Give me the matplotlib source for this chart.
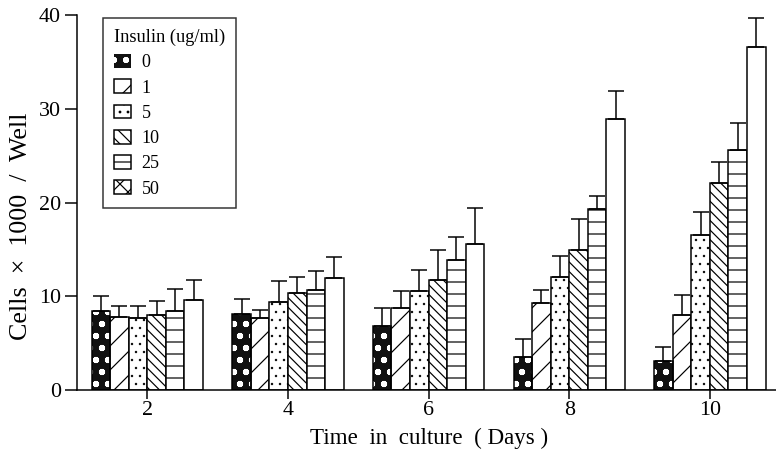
import matplotlib
matplotlib.use('Agg')
import matplotlib.pyplot as plt
from matplotlib.patches import Patch
import numpy as np

# ---------------- data ----------------
days = [2, 4, 6, 8, 10]
concentrations = ['0', '1', '5', '10', '25', '50']
mean_0 = [8.4, 8.1, 6.8, 3.5, 3.1]
mean_1 = [7.8, 7.7, 8.8, 9.3, 8.0]
mean_5 = [7.7, 9.4, 10.6, 12.1, 16.5]
mean_10 = [8.0, 10.3, 11.7, 14.9, 22.1]
mean_25 = [8.4, 10.7, 13.9, 19.3, 25.6]
mean_50 = [9.6, 11.9, 15.6, 28.9, 36.6]
err_0 = [1.6, 1.6, 2.0, 1.9, 1.5]
err_1 = [1.2, 0.8, 1.8, 1.4, 2.1]
err_5 = [1.3, 2.2, 2.2, 2.2, 2.5]
err_10 = [1.5, 1.8, 3.2, 3.3, 2.2]
err_25 = [2.4, 2.0, 2.4, 1.4, 2.9]
err_50 = [2.1, 2.3, 3.8, 3.0, 3.1]
yticks = [0, 10, 20, 30, 40]

means = [mean_0, mean_1, mean_5, mean_10, mean_25, mean_50]
errs = [err_0, err_1, err_5, err_10, err_25, err_50]

# ---------------- style ----------------
DPI = 144
plt.rcParams['font.family'] = ['Liberation Serif', 'DejaVu Serif']
plt.rcParams['hatch.linewidth'] = 0.6

fig = plt.figure(figsize=(776 / DPI, 455 / DPI), dpi=DPI)
ax = fig.add_axes([77 / 776, 65 / 455, 1 - 77 / 776, 375 / 455])

hatches = ['oo..', '//', '...', '\\' * 5, '--', None]
hatch_lws = [0.7, 0.6, 0.4, 0.6, 0.6, 0.6]
legend_hatches = ['oo..', '//', '...', '\\' * 4, '--', 'xxx']
w = 0.264
x0 = np.array(days, dtype=float)
lw = 0.75

for i, (c, m, e) in enumerate(zip(concentrations, means, errs)):
    x = x0 + (i - 2.5) * w
    with plt.rc_context({'hatch.linewidth': hatch_lws[i]}):
        if i == 0:
            ax.bar(x, m, width=w, facecolor='#111111', edgecolor='white',
                   hatch=hatches[i], linewidth=0, zorder=2)
            ax.bar(x, m, width=w, fill=False, edgecolor='black', linewidth=lw, zorder=3)
        else:
            ax.bar(x, m, width=w, facecolor='white', edgecolor='black',
                   hatch=hatches[i], linewidth=lw, zorder=2)
    ax.errorbar(x, m, yerr=[np.zeros(len(m)), e], fmt='none', ecolor='black',
                elinewidth=lw, capsize=4, capthick=lw, zorder=4)

ax.set_xlim(1.0, 10.94)
ax.set_ylim(0, 40)
ax.set_xticks(days)
ax.set_yticks(yticks)
ax.spines['top'].set_visible(False)
ax.spines['right'].set_visible(False)
ax.spines['left'].set_linewidth(lw)
ax.spines['bottom'].set_linewidth(lw)
ax.tick_params(axis='x', direction='inout', length=9, width=lw, labelsize=11, pad=1)
ax.tick_params(axis='y', direction='out', length=6, width=lw, labelsize=11, pad=2)

ax.set_xlabel('Time  in  culture  ( Days )', fontsize=11.5)
ax.xaxis.set_label_coords(0.503, -0.1)
ax.set_ylabel('Cells  ×  1000  /  Well', fontsize=13)
ax.yaxis.set_label_coords(-0.064, 0.437)

handles = []
for i in range(6):
    with plt.rc_context({'hatch.linewidth': hatch_lws[i]}):
        if i == 0:
            handles.append(Patch(facecolor='#111111', edgecolor='white',
                                 hatch=legend_hatches[i], linewidth=0))
        else:
            handles.append(Patch(facecolor='white', edgecolor='black',
                                 hatch=legend_hatches[i], linewidth=lw))
leg = ax.legend(handles, concentrations, title='Insulin (ug/ml)',
                loc='upper left', bbox_to_anchor=(26 / 699, 1 - 3 / 375),
                fontsize=9, title_fontsize=9.2, frameon=True, fancybox=False,
                edgecolor='black', handlelength=0.95, handleheight=0.8,
                handletextpad=0.6, labelspacing=0.45, borderpad=0.6,
                alignment='left', borderaxespad=0)
leg.get_frame().set_linewidth(lw)

fig.savefig('out.png', dpi=DPI)
